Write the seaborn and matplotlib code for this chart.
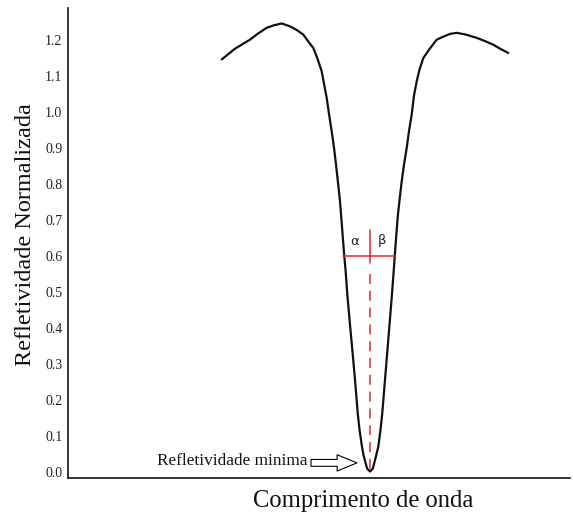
import matplotlib
matplotlib.use("Agg")
import matplotlib.pyplot as plt
import seaborn as sns
import pandas as pd

# Data (x in arbitrary wavelength units)
wavelength = [153.7, 167, 182, 190, 198.7, 206, 213.7, 222, 228.7, 235.3,
              240, 245.3, 249.5, 253.7, 256, 258.7, 261, 263.7, 266, 268,
              270, 272, 274, 276, 277.5, 279.5, 282, 284.5, 287, 289.7,
              291.5, 294, 295.5, 297.5, 299.2, 302,
              304.8, 306.3, 308.3, 310.3, 312.5, 314.3, 317, 319.3, 321.5, 323.8,
              325.8, 327, 328.4, 329.9, 331.8, 333.7, 336, 338.7, 341, 343.7,
              346, 348.7, 351.5, 355.3, 361, 368.7, 375, 382, 388.7, 398,
              408.7, 417, 425.3, 432, 440.3]
reflectivity = [1.145, 1.175, 1.200, 1.217, 1.233, 1.240, 1.245, 1.237, 1.227, 1.214,
                1.196, 1.177, 1.147, 1.112, 1.078, 1.038, 0.994, 0.945, 0.900, 0.853,
                0.803, 0.751, 0.680, 0.608, 0.561, 0.486, 0.408, 0.333, 0.255, 0.163,
                0.116, 0.069, 0.046, 0.024, 0.008, 0.0,
                0.008, 0.024, 0.046, 0.069, 0.116, 0.163, 0.255, 0.333, 0.408, 0.486,
                0.561, 0.608, 0.661, 0.713, 0.761, 0.806, 0.853, 0.899, 0.946, 0.992,
                1.045, 1.084, 1.117, 1.149, 1.172, 1.200, 1.208, 1.216, 1.219, 1.214,
                1.205, 1.196, 1.186, 1.175, 1.163]
y_ticks = [0.0, 0.1, 0.2, 0.3, 0.4, 0.5, 0.6, 0.7, 0.8, 0.9, 1.0, 1.1, 1.2]
x_min = 302
half_level = 0.6
alpha_x, beta_x = 275, 327

df = pd.DataFrame({"Comprimento de onda": wavelength,
                   "Refletividade Normalizada": reflectivity})

sns.set_style("white")
plt.rcParams["font.family"] = "serif"
plt.rcParams["font.serif"] = ["Liberation Serif", "DejaVu Serif"]

fig = plt.figure(figsize=(5.73, 5.16), dpi=100)
ax = fig.add_axes([68/573, 38/516, 502/573, 470/516])

sns.lineplot(data=df, x="Comprimento de onda", y="Refletividade Normalizada",
             ax=ax, color="#111111", linewidth=1.6, estimator=None, sort=True,
             solid_joinstyle="round", solid_capstyle="round")

red = "#e3262c"
ax.plot([alpha_x, beta_x], [half_level, half_level], color=red, lw=1.1)
ax.plot([x_min, x_min], [0.58, 0.672], color=red, lw=1.1)
ax.plot([x_min, x_min], [0.548, 0.0], color=red, lw=1.1, ls=(0, (6.5, 4.5)))

ax.text(287, 0.640, "α", family="DejaVu Sans", fontsize=9.5, ha="center",
        va="center", color="#222222")
ax.text(314, 0.643, "β", family="DejaVu Sans", fontsize=9.5, ha="center",
        va="center", color="#222222")

ax.text(89, 0.028, "Refletividade minima", fontsize=12.4, ha="left",
        va="center", color="#111111")
ax.annotate("", xy=(289, 0.024), xytext=(243, 0.024),
            arrowprops=dict(arrowstyle="simple,head_length=1.1,head_width=0.9,tail_width=0.38",
                            fc="white", ec="black", lw=0.8, mutation_scale=13,
                            shrinkA=0, shrinkB=0))

ax.set_xlim(0, 502)
ax.set_ylim(-0.018, 1.288)
ax.set_yticks(y_ticks)
ax.set_yticklabels([f"{t:.1f}" for t in y_ticks])
ax.set_xticks([])
ax.tick_params(axis="y", length=0, pad=4, labelsize=10, labelcolor="#222222")

for s in ["top", "right"]:
    ax.spines[s].set_visible(False)
for s in ["left", "bottom"]:
    ax.spines[s].set_color("#111111")
    ax.spines[s].set_linewidth(1.2)

ax.set_ylabel("Refletividade Normalizada", fontsize=17.5, color="#111111")
ax.yaxis.set_label_coords(-0.064, 0.519)
ax.set_xlabel("Comprimento de onda", fontsize=17.7, color="#111111")
ax.xaxis.set_label_coords(0.589, -0.026)

fig.savefig("out.png", dpi=100)
